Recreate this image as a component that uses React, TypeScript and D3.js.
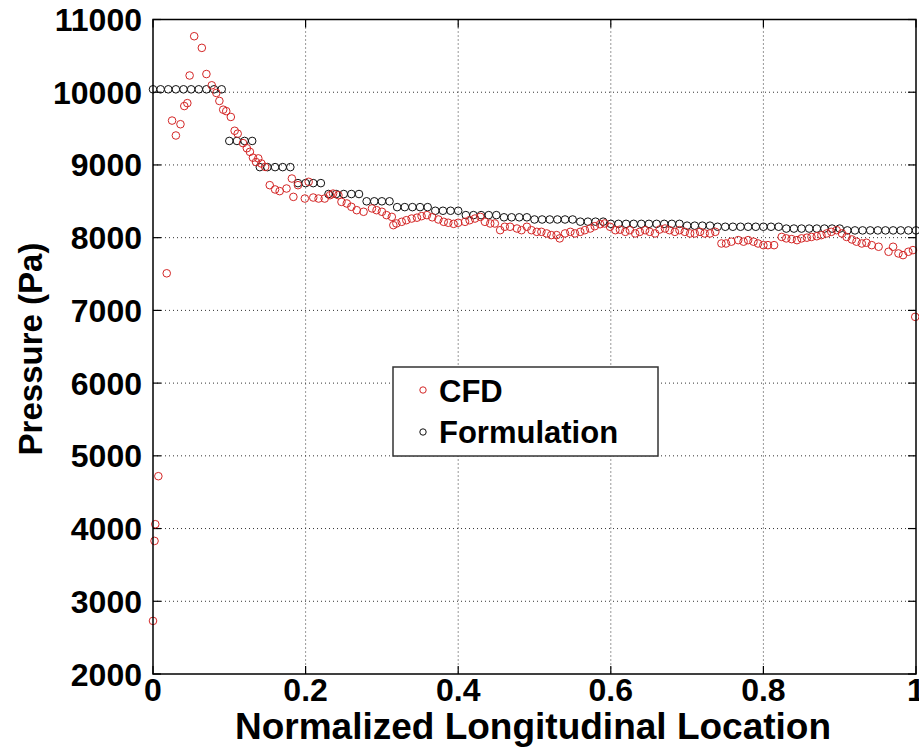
import React from "react";
import * as d3 from "d3";

const xTicks = [0, 0.2, 0.4, 0.6, 0.8, 1];
const xTickLabels = ["0", "0.2", "0.4", "0.6", "0.8", "1"];
const yTicks = [2000, 3000, 4000, 5000, 6000, 7000, 8000, 9000, 10000, 11000];
const yTickLabels = ["2000", "3000", "4000", "5000", "6000", "7000", "8000", "9000", "10000", "11000"];

const formulationX = [
  0.0, 0.01, 0.02, 0.03, 0.04, 0.05, 0.06, 0.07, 0.08, 0.09,
  0.1, 0.11, 0.12, 0.13, 0.14, 0.15, 0.16, 0.17, 0.18, 0.19,
  0.2, 0.21, 0.22, 0.23, 0.24, 0.25, 0.26, 0.27, 0.28, 0.29,
  0.3, 0.31, 0.32, 0.33, 0.34, 0.35, 0.36, 0.37, 0.38, 0.39,
  0.4, 0.41, 0.42, 0.43, 0.44, 0.45, 0.46, 0.47, 0.48, 0.49,
  0.5, 0.51, 0.52, 0.53, 0.54, 0.55, 0.56, 0.57, 0.58, 0.59,
  0.6, 0.61, 0.62, 0.63, 0.64, 0.65, 0.66, 0.67, 0.68, 0.69,
  0.7, 0.71, 0.72, 0.73, 0.74, 0.75, 0.76, 0.77, 0.78, 0.79,
  0.8, 0.81, 0.82, 0.83, 0.84, 0.85, 0.86, 0.87, 0.88, 0.89,
  0.9, 0.91, 0.92, 0.93, 0.94, 0.95, 0.96, 0.97, 0.98, 0.99, 1.0,
];
const formulationY = [
  10040, 10040, 10040, 10040, 10040, 10040, 10040, 10040, 10040, 10040,
  9330, 9330, 9330, 9330, 8970, 8970, 8970, 8970, 8970, 8750,
  8750, 8750, 8750, 8600, 8600, 8600, 8600, 8600, 8500, 8500,
  8500, 8500, 8420, 8420, 8420, 8420, 8420, 8370, 8370, 8370,
  8370, 8310, 8310, 8310, 8310, 8310, 8280, 8280, 8280, 8280,
  8250, 8250, 8250, 8250, 8250, 8250, 8220, 8220, 8220, 8220,
  8190, 8190, 8190, 8190, 8190, 8190, 8190, 8190, 8190, 8190,
  8165, 8165, 8165, 8165, 8150, 8150, 8150, 8150, 8150, 8150,
  8150, 8150, 8150, 8125, 8125, 8125, 8125, 8125, 8125, 8125,
  8125, 8100, 8100, 8100, 8100, 8100, 8100, 8100, 8100, 8100, 8100,
];

const cfdX = [
  0.0, 0.002, 0.003, 0.007, 0.018, 0.025, 0.03, 0.036, 0.041, 0.045,
  0.048, 0.054, 0.064, 0.07, 0.077, 0.083, 0.087, 0.092, 0.096, 0.102,
  0.107, 0.111, 0.118, 0.123, 0.127, 0.131, 0.135, 0.138, 0.142, 0.147,
  0.153, 0.16, 0.166, 0.175, 0.182, 0.184, 0.19, 0.199, 0.204, 0.21,
  0.217, 0.225, 0.232, 0.236, 0.243, 0.247, 0.254, 0.26, 0.267, 0.276,
  0.287, 0.293, 0.3, 0.306, 0.313, 0.315, 0.319, 0.326, 0.332, 0.339,
  0.346, 0.352, 0.359, 0.366, 0.374, 0.381, 0.387, 0.394, 0.4, 0.409,
  0.415, 0.422, 0.429, 0.435, 0.442, 0.448, 0.455, 0.461, 0.468, 0.477,
  0.483, 0.49, 0.496, 0.503, 0.509, 0.516, 0.522, 0.529, 0.533, 0.54,
  0.547, 0.553, 0.56, 0.566, 0.573, 0.579, 0.586, 0.592, 0.599, 0.606,
  0.612, 0.619, 0.625, 0.632, 0.638, 0.645, 0.651, 0.658, 0.664, 0.671,
  0.677, 0.684, 0.69, 0.697, 0.704, 0.71, 0.717, 0.723, 0.73, 0.737,
  0.745, 0.751, 0.758, 0.767, 0.774, 0.78, 0.787, 0.793, 0.8, 0.806,
  0.814, 0.824, 0.83, 0.837, 0.844, 0.85, 0.857, 0.863, 0.87, 0.876,
  0.883, 0.889, 0.896, 0.903, 0.909, 0.916, 0.922, 0.929, 0.935, 0.942,
  0.951, 0.964, 0.97, 0.977, 0.983, 0.99, 0.996, 0.999,
];
const cfdY = [
  2730, 3830, 4060, 4720, 7510, 9610, 9405, 9560, 9810, 9850,
  10230, 10770, 10610, 10250, 10095, 9990, 9880, 9760, 9740, 9660,
  9470, 9430, 9300, 9230, 9180, 9100, 9040, 9090, 9020, 8973,
  8722, 8663, 8640, 8676, 8813, 8561, 8722, 8538, 8768, 8552,
  8538, 8538, 8584, 8606, 8584, 8492, 8470, 8424, 8378, 8356,
  8402, 8378, 8356, 8310, 8286, 8172, 8195, 8218, 8240, 8263,
  8275, 8296, 8310, 8280, 8250, 8218, 8205, 8190, 8205, 8218,
  8240, 8263, 8286, 8218, 8195, 8195, 8103, 8150, 8150, 8126,
  8103, 8150, 8103, 8080, 8080, 8058, 8035, 8035, 7990, 8058,
  8080, 8058, 8080, 8103, 8126, 8158, 8185, 8195, 8150, 8103,
  8110, 8080, 8103, 8058, 8080, 8103, 8080, 8058, 8112, 8126,
  8103, 8080, 8103, 8080, 8058, 8058, 8080, 8058, 8058, 8080,
  7920, 7920, 7945, 7966, 7945, 7966, 7945, 7920, 7897, 7897,
  7897, 8010, 7990, 7980, 7966, 7990, 8000, 8010, 8020, 8035,
  8058, 8080, 8103, 8058, 8010, 7975, 7945, 7920, 7930, 7897,
  7875, 7806, 7875, 7783, 7760, 7806, 7829, 6911,
];

const seriesNames = ["CFD", "Formulation"];
const seriesColors = ["#d42626", "#111111"];

const W = 919;
const H = 750;
const left = 153;
const right = 916;
const top = 19.5;
const bottom = 674;
const font = "'Liberation Sans', Arial, sans-serif";

export default function App() {
  const x = d3.scaleLinear().domain([0, 1]).range([left, right]);
  const y = d3.scaleLinear().domain([2000, 11000]).range([bottom, top]);
  const tickLen = 8;

  return (
    <svg width={W} height={H} style={{ position: "absolute", left: 0, top: 0, background: "#fff" }}>
      <rect x={0} y={0} width={W} height={H} fill="#fff" />
      {/* grid */}
      <g stroke="#333" strokeWidth={1} strokeDasharray="1,3">
        {xTicks.slice(1, -1).map((t) => (
          <line key={"gx" + t} x1={x(t)} x2={x(t)} y1={top} y2={bottom} />
        ))}
        {yTicks.slice(1, -1).map((t) => (
          <line key={"gy" + t} x1={left} x2={right} y1={y(t)} y2={y(t)} />
        ))}
      </g>
      {/* ticks */}
      <g stroke="#000" strokeWidth={1.2}>
        {xTicks.map((t) => (
          <g key={"tx" + t}>
            <line x1={x(t)} x2={x(t)} y1={bottom} y2={bottom - tickLen} />
            <line x1={x(t)} x2={x(t)} y1={top} y2={top + tickLen} />
          </g>
        ))}
        {yTicks.map((t) => (
          <g key={"ty" + t}>
            <line x1={left} x2={left + tickLen} y1={y(t)} y2={y(t)} />
            <line x1={right} x2={right - tickLen} y1={y(t)} y2={y(t)} />
          </g>
        ))}
      </g>
      {/* data: formulation */}
      <g fill="none" stroke={seriesColors[1]} strokeWidth={1}>
        {formulationX.map((v, i) => (
          <circle key={"f" + i} cx={x(v)} cy={y(formulationY[i])} r={3.8} />
        ))}
      </g>
      {/* data: CFD */}
      <g fill="none" stroke={seriesColors[0]} strokeWidth={1}>
        {cfdX.map((v, i) => (
          <circle key={"c" + i} cx={x(v)} cy={y(cfdY[i])} r={3.8} />
        ))}
      </g>
      {/* box */}
      <rect x={left} y={top} width={right - left} height={bottom - top} fill="none" stroke="#000" strokeWidth={1.5} />
      {/* tick labels */}
      <g fontFamily={font} fontWeight="bold" fill="#000">
        {xTicks.map((t, i) => (
          <text key={"lx" + t} x={x(t)} y={bottom + 27} textAnchor="middle" fontSize={32}>
            {xTickLabels[i]}
          </text>
        ))}
        {yTicks.map((t, i) => (
          <text key={"ly" + t} x={left - 11} y={y(t) + 11.5} textAnchor="end" fontSize={32}>
            {yTickLabels[i]}
          </text>
        ))}
        <text x={533} y={739} textAnchor="middle" fontSize={37}>
          Normalized Longitudinal Location
        </text>
        <text transform={`translate(42, 349) rotate(-90)`} textAnchor="middle" fontSize={33}>
          Pressure (Pa)
        </text>
      </g>
      {/* legend */}
      <g>
        <rect x={393} y={367} width={265} height={89} fill="#fff" stroke="#333" strokeWidth={1.5} />
        {seriesNames.map((name, i) => (
          <g key={name}>
            <circle cx={423} cy={390 + i * 42} r={3.2} fill="none" stroke={seriesColors[i]} strokeWidth={1} />
            <text x={439} y={402 + i * 41} fontFamily={font} fontWeight="bold" fontSize={31} fill="#000">
              {name}
            </text>
          </g>
        ))}
      </g>
    </svg>
  );
}
